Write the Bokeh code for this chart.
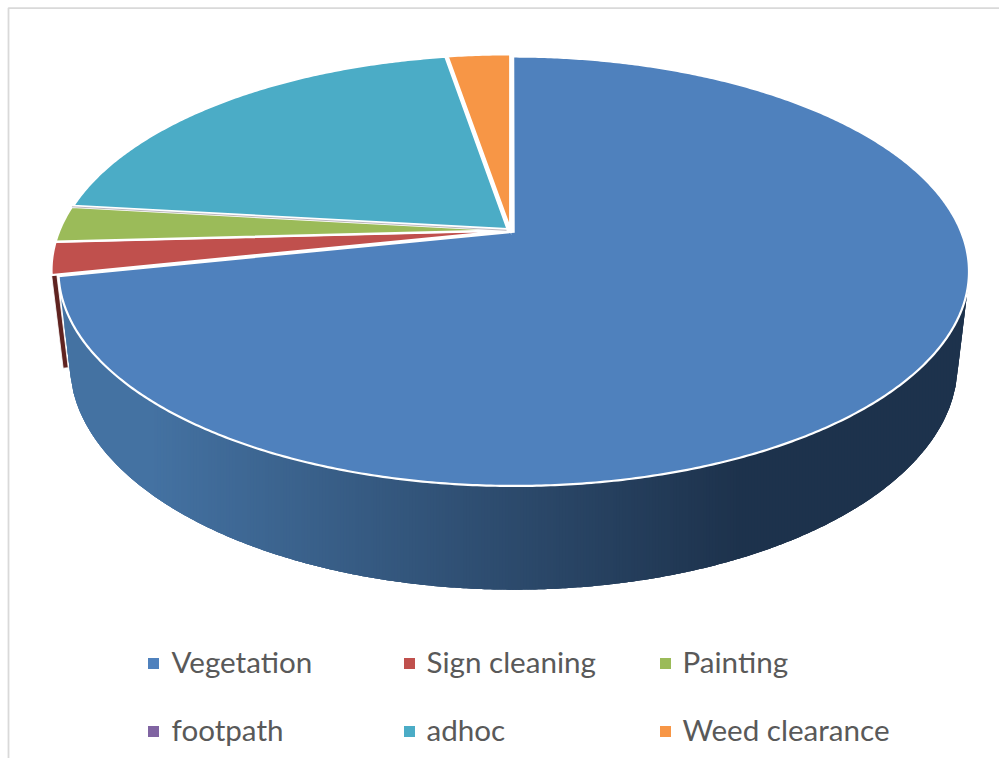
import numpy as np
from bokeh.embed import file_html
from bokeh.plotting import figure
from bokeh.resources import INLINE
from bokeh.core.properties import value

categories = ["Vegetation", "Sign cleaning", "Painting", "footpath", "adhoc", "Weed clearance"]
values = [71.7, 2.45, 2.7, 0.0, 20.5, 2.65]
colors = ["#4f81bd", "#c0504d", "#9bbb59", "#8064a2", "#4bacc6", "#f79646"]

# projection / layout settings (screen pixels)
CX, CY, A, B, K = 510.0, 230.0, 207.0, 447.0, 0.184
EXPLODE = 0.009
SX, SY, DROP = 0.975, 1.05, 91.0
WALL_STOPS_X = [150, 514, 740]
WALL_STOPS_RGB = np.array([[68, 114, 162], [44, 74, 108], [29, 50, 76]], float)


def rim(theta, bis, r=1.0):
    """Perspective-projected point(s) of the pie top, theta clockwise from 12 o'clock."""
    u = r * np.sin(theta) + EXPLODE * np.sin(bis)
    v = r * np.cos(theta) + EXPLODE * np.cos(bis)
    w = 1 + K * v
    return CX + B * u / w, CY - A * v / w


def drop(x, y, cx, cy):
    return cx + SX * (x - cx), cy + SY * (y - cy) + DROP


def wall_color(x):
    c = [np.interp(x, WALL_STOPS_X, WALL_STOPS_RGB[:, i]) for i in range(3)]
    return "#%02x%02x%02x" % tuple(int(round(t)) for t in c)


p = figure(width=999, height=758, x_range=(0, 999), y_range=(758, 0),
           output_backend="svg", toolbar_location=None, min_border=0)
p.axis.visible = False
p.grid.visible = False
p.outline_line_color = None

# chart frame
p.line([8, 8, 999], [758, 7.6, 7.6], line_color="#d9d9d9", line_width=1.8)

total = sum(values)
edges = np.radians(np.cumsum([0] + values) / total * 360)
bisect = (edges[:-1] + edges[1:]) / 2

# side wall of the first slice, as vertical strips so the shade follows x
t1 = edges[1]
bis = bisect[0]
acx, acy = rim(np.array([0.0]), bis, r=0.0)
acx, acy = acx[0], acy[0]
ts = np.radians(np.arange(60, np.degrees(t1) + 0.01, 0.25))
tx, ty = rim(ts, bis)
bx, by = drop(tx, ty, acx, acy)
grid = np.arange(np.floor(min(tx.min(), bx.min())), np.ceil(max(tx.max(), bx.max())) + 3, 3.0)
lo = np.full(grid.size, np.inf)
hi = np.full(grid.size, -np.inf)
for x0, y0, x1, y1 in zip(tx, ty, bx, by):
    a, b = sorted((x0, x1))
    m = (grid >= a) & (grid <= b)
    if a == b or not m.any():
        continue
    yy = y0 + (grid[m] - x0) * (y1 - y0) / (x1 - x0)
    lo[m] = np.minimum(lo[m], yy)
    hi[m] = np.maximum(hi[m], yy)
for xa, ya in ((tx, ty), (bx, by)):
    for i in range(xa.size - 1):
        a, b = sorted((xa[i], xa[i + 1]))
        m = (grid >= a) & (grid <= b)
        if a == b or not m.any():
            continue
        yy = ya[i] + (grid[m] - xa[i]) * (ya[i + 1] - ya[i]) / (xa[i + 1] - xa[i])
        lo[m] = np.minimum(lo[m], yy)
        hi[m] = np.maximum(hi[m], yy)
ok = np.isfinite(lo)
grid, lo, hi = grid[ok], lo[ok], hi[ok]
sx, sy, cols = [], [], []
for i in range(grid.size - 1):
    j = min(i + 3, grid.size - 1)
    sx.append(np.r_[grid[i:j + 1], grid[i:j + 1][::-1]])
    sy.append(np.r_[lo[i:j + 1], hi[i:j + 1][::-1]])
    cols.append(wall_color((grid[i] + grid[i + 1]) / 2))
p.patches(sx, sy, fill_color=cols, line_color=None)

# side face of the second slice, seen between it and the first
bis1 = bisect[1]
rx0, ry0 = rim(np.array([t1, t1]), bis1, r=np.array([1.0, 0.989]))
dx, dy = drop(rx0, ry0, acx, acy)
p.patch([rx0[0], rx0[1], dx[1], dx[0]], [ry0[0], ry0[1], dy[1], dy[0]],
        fill_color="#5f2320", line_color="white", line_width=0.8)

# top faces
order = [0, 1, 2, 4, 5]
xs_top, ys_top, fills = [], [], []
for i in order:
    th = np.linspace(edges[i], edges[i + 1], max(3, int((edges[i + 1] - edges[i]) * 120)))
    x, y = rim(th, bisect[i])
    cx0, cy0 = rim(np.array([0.0]), bisect[i], r=0.0)
    xs_top.append(np.r_[cx0, x])
    ys_top.append(np.r_[cy0, y])
    fills.append(colors[i])
p.patches(xs_top, ys_top, fill_color=fills, line_color="white", line_width=2.2, line_join="miter")

# the zero-valued slice collapses to a hairline
zx, zy = rim(np.array([edges[3], 0.0]), bisect[3], r=np.array([1.0, 0.0]))
p.line(zx, zy, line_color="#a9a3ad", line_width=0.8)

# legend
LEG_X = [153, 409, 665]
LEG_Y = [663, 731]
TEXT_X = [171, 426, 682]
lx = [LEG_X[i % 3] for i in range(6)]
tx_ = [TEXT_X[i % 3] for i in range(6)]
ly = [LEG_Y[i // 3] for i in range(6)]
p.rect(lx, ly, width=11, height=11, fill_color=colors, line_color=None)
p.text(tx_, [y - 2 for y in ly], text=categories, text_font=value("Lato"),
       text_font_size="29.6px", text_color="#595959", text_baseline="middle", text_align="left")

open("out.html", "w").write(file_html(p, INLINE))
